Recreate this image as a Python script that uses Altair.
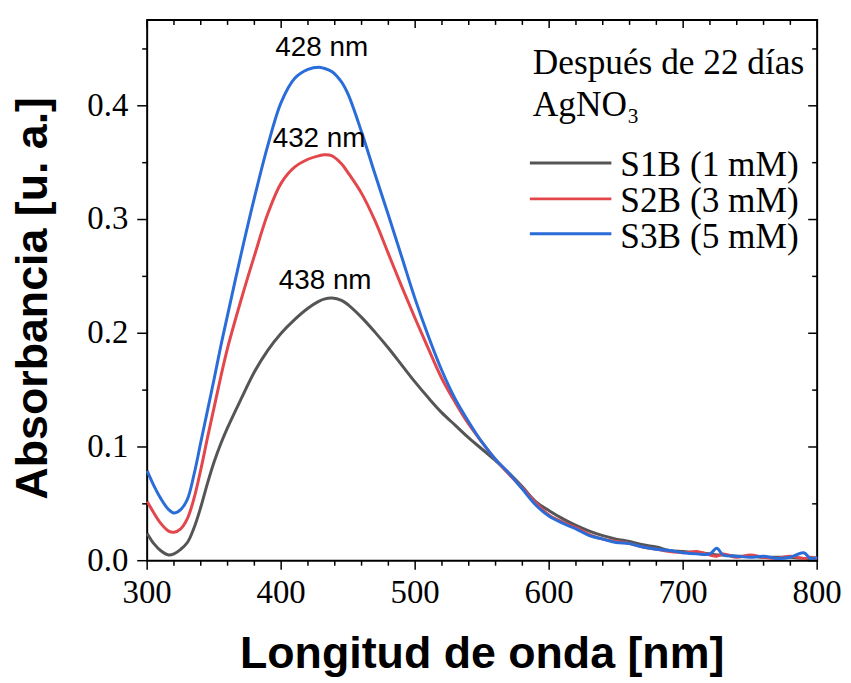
import altair as alt
import pandas as pd

# ---------------- data ----------------
wavelength = [300, 305, 310, 316, 320, 325, 330, 335, 340, 345, 350, 355, 360, 370, 380, 390, 400,
              410, 420, 428, 432, 438, 445, 450, 460, 470, 480, 490, 500, 510, 520, 530,
              540, 550, 560, 570, 580, 590, 600, 610, 620, 630, 640, 650, 660, 670, 680,
              690, 700, 710, 720, 725, 730, 740, 750, 760, 770, 780, 790, 795, 800]

s1b = [0.024, 0.015, 0.009, 0.005, 0.006, 0.010, 0.016, 0.029, 0.047, 0.068, 0.087, 0.103, 0.117, 0.142, 0.166, 0.185, 0.200,
       0.212, 0.222, 0.228, 0.230, 0.231, 0.229, 0.225, 0.214, 0.201, 0.187, 0.172, 0.157, 0.143, 0.130, 0.119,
       0.108, 0.098, 0.088, 0.077, 0.065, 0.052, 0.044, 0.037, 0.031, 0.026, 0.022, 0.019, 0.017, 0.014, 0.012,
       0.009, 0.008, 0.007, 0.006, 0.005, 0.005, 0.004, 0.004, 0.003, 0.003, 0.003, 0.002, 0.002, 0.002]

s2b = [0.052, 0.042, 0.033, 0.026, 0.025, 0.028, 0.037, 0.055, 0.080, 0.108, 0.135, 0.162, 0.187, 0.229, 0.268, 0.305, 0.332,
       0.346, 0.353, 0.356, 0.357, 0.356, 0.349, 0.341, 0.323, 0.299, 0.270, 0.241, 0.213, 0.186, 0.160, 0.139,
       0.120, 0.104, 0.089, 0.076, 0.064, 0.051, 0.040, 0.034, 0.029, 0.023, 0.019, 0.017, 0.015, 0.012, 0.010,
       0.008, 0.007, 0.008, 0.005, 0.004, 0.006, 0.003, 0.005, 0.003, 0.002, 0.004, 0.002, 0.003, 0.002]

s3b = [0.079, 0.066, 0.055, 0.045, 0.042, 0.045, 0.054, 0.076, 0.104, 0.132, 0.160, 0.189, 0.216, 0.269, 0.319, 0.365, 0.403,
       0.424, 0.432, 0.434, 0.433, 0.430, 0.421, 0.410, 0.377, 0.340, 0.304, 0.267, 0.230, 0.197, 0.167, 0.142,
       0.122, 0.104, 0.089, 0.077, 0.063, 0.049, 0.039, 0.033, 0.028, 0.022, 0.019, 0.016, 0.015, 0.012, 0.010,
       0.009, 0.007, 0.006, 0.006, 0.011, 0.005, 0.004, 0.003, 0.004, 0.002, 0.003, 0.007, 0.002, 0.003]

series_names = ["S1B (1 mM)", "S2B (3 mM)", "S3B (5 mM)"]
series_colors = ["#555555", "#e3474c", "#2a6dd9"]

peak_wl = [428, 432, 438]
peak_abs = [0.434, 0.357, 0.231]
peak_labels = ["428 nm", "432 nm", "438 nm"]

legend_heading = ["Después de 22 días", "AgNO\u2083"]

x_title = "Longitud de onda [nm]"
y_title = "Absorbancia [u. a.]"

x_major = [300, 400, 500, 600, 700, 800]
x_major_text = ["300", "400", "500", "600", "700", "800"]
x_minor = [320, 340, 360, 380, 420, 440, 460, 480, 520, 540, 560, 580,
           620, 640, 660, 680, 720, 740, 760, 780]
y_major = [0.0, 0.1, 0.2, 0.3, 0.4]
y_major_text = ["0.0", "0.1", "0.2", "0.3", "0.4"]
y_minor = [0.05, 0.15, 0.25, 0.35, 0.45]

# ---------------- tables ----------------
rows = []
for name, vals in zip(series_names, [s1b, s2b, s3b]):
    for w, a in zip(wavelength, vals):
        rows.append({"wl": w, "abs": a, "series": name})
df = pd.DataFrame(rows)

SERIF = "Liberation Serif"
SANS = "Liberation Sans"
W, H = 674, 544

xscale = alt.Scale(domain=[300, 800], nice=False, zero=False)
yscale = alt.Scale(domain=[0, 0.4755], nice=False, zero=False)
color = alt.Color("series:N", scale=alt.Scale(domain=series_names, range=series_colors), legend=None)

lines = alt.Chart(df).mark_line(strokeWidth=3, interpolate="catmull-rom").encode(
    x=alt.X("wl:Q", scale=xscale, axis=None),
    y=alt.Y("abs:Q", scale=yscale, axis=None),
    color=color,
    detail="series:N",
)

# ---------------- axis ticks, tick labels and titles (through the scales) ----------------
def xticks(values, y0, y1):
    return alt.Chart(pd.DataFrame({"tx": values})).mark_rule(color="black", strokeWidth=1.5).encode(
        x=alt.X("tx:Q", scale=xscale, axis=None), y=alt.value(y0), y2=alt.value(y1))


def yticks(values, x0, x1):
    return alt.Chart(pd.DataFrame({"ty": values})).mark_rule(color="black", strokeWidth=1.5).encode(
        y=alt.Y("ty:Q", scale=yscale, axis=None), x=alt.value(x0), x2=alt.value(x1))


tick_layers = [
    xticks(x_major, H, H + 9), xticks(x_minor, H, H + 5),      # bottom, outward
    xticks(x_major, 0, 8), xticks(x_minor, 0, 5),              # top, inward
    yticks(y_major, 0, -10), yticks(y_minor, 0, -5),           # left, outward
    yticks(y_major, W, W - 9), yticks(y_minor, W, W - 5),      # right, inward
]

x_labels = alt.Chart(pd.DataFrame({"lx": x_major, "lab": x_major_text})).mark_text(
    font=SERIF, fontSize=33, color="black", align="center", baseline="top"
).encode(
    x=alt.X("lx:Q", scale=xscale, axis=None), y=alt.value(H + 17), text="lab:N",
)
y_labels = alt.Chart(pd.DataFrame({"ly": y_major, "lab": y_major_text})).mark_text(
    font=SERIF, fontSize=33, color="black", align="right", baseline="middle"
).encode(
    y=alt.Y("ly:Q", scale=yscale, axis=None), x=alt.value(-19), text="lab:N",
)
x_title_layer = alt.Chart(pd.DataFrame({"t": [x_title]})).mark_text(
    font=SANS, fontSize=45, fontWeight="bold", color="black", align="center", baseline="alphabetic"
).encode(x=alt.value(W / 2), y=alt.value(H + 108), text="t:N")
y_title_layer = alt.Chart(pd.DataFrame({"t": [y_title]})).mark_text(
    font=SANS, fontSize=45, fontWeight="bold", color="black", align="center", baseline="alphabetic",
    angle=270,
).encode(x=alt.value(-101), y=alt.value(280), text="t:N")

# ---------------- peak annotations ----------------
label_dx = [3, -5, -7]
label_dy = [-11, -8, -9]
peak_layers = []
for w, a, lab, dx, dy in zip(peak_wl, peak_abs, peak_labels, label_dx, label_dy):
    pdf = pd.DataFrame({"wl": [w], "abs": [a], "label": [lab]})
    peak_layers.append(
        alt.Chart(pdf).mark_text(font=SANS, fontSize=28, color="black", align="center",
                                 baseline="alphabetic", dx=dx, dy=dy).encode(
            x=alt.X("wl:Q", scale=xscale, axis=None),
            y=alt.Y("abs:Q", scale=yscale, axis=None),
            text="label:N",
        )
    )

# ---------------- legend (drawn as marks) ----------------
legend_layers = []
heading_y = [54, 97]
for txt, yy in zip(legend_heading, heading_y):
    legend_layers.append(
        alt.Chart(pd.DataFrame({"t": [txt]})).mark_text(
            font=SERIF, fontSize=35.5, color="black", align="left", baseline="alphabetic"
        ).encode(x=alt.value(388), y=alt.value(yy), text="t:N")
    )

entry_line_y = [144, 180, 215]
entry_text_y = [157, 193, 229]
for name, ly, ty in zip(series_names, entry_line_y, entry_text_y):
    ldf = pd.DataFrame({"series": [name]})
    legend_layers.append(
        alt.Chart(ldf).mark_rule(strokeWidth=3).encode(
            x=alt.value(385), x2=alt.value(467), y=alt.value(ly), color=color
        )
    )
    legend_layers.append(
        alt.Chart(ldf).mark_text(font=SERIF, fontSize=35.5, color="black", align="left",
                                 baseline="alphabetic").encode(
            x=alt.value(476), y=alt.value(ty), text="series:N"
        )
    )

chart = alt.layer(
    lines, *tick_layers, x_labels, y_labels, x_title_layer, y_title_layer,
    *peak_layers, *legend_layers
).properties(
    width=W, height=H,
    autosize=alt.AutoSizeParams(type="none"),
    padding={"left": 140, "top": 10, "right": 26, "bottom": 118},
    background="white",
).configure_view(stroke="black", strokeWidth=2)

chart.save("out.html", embed_options={"renderer": "svg", "actions": False})
